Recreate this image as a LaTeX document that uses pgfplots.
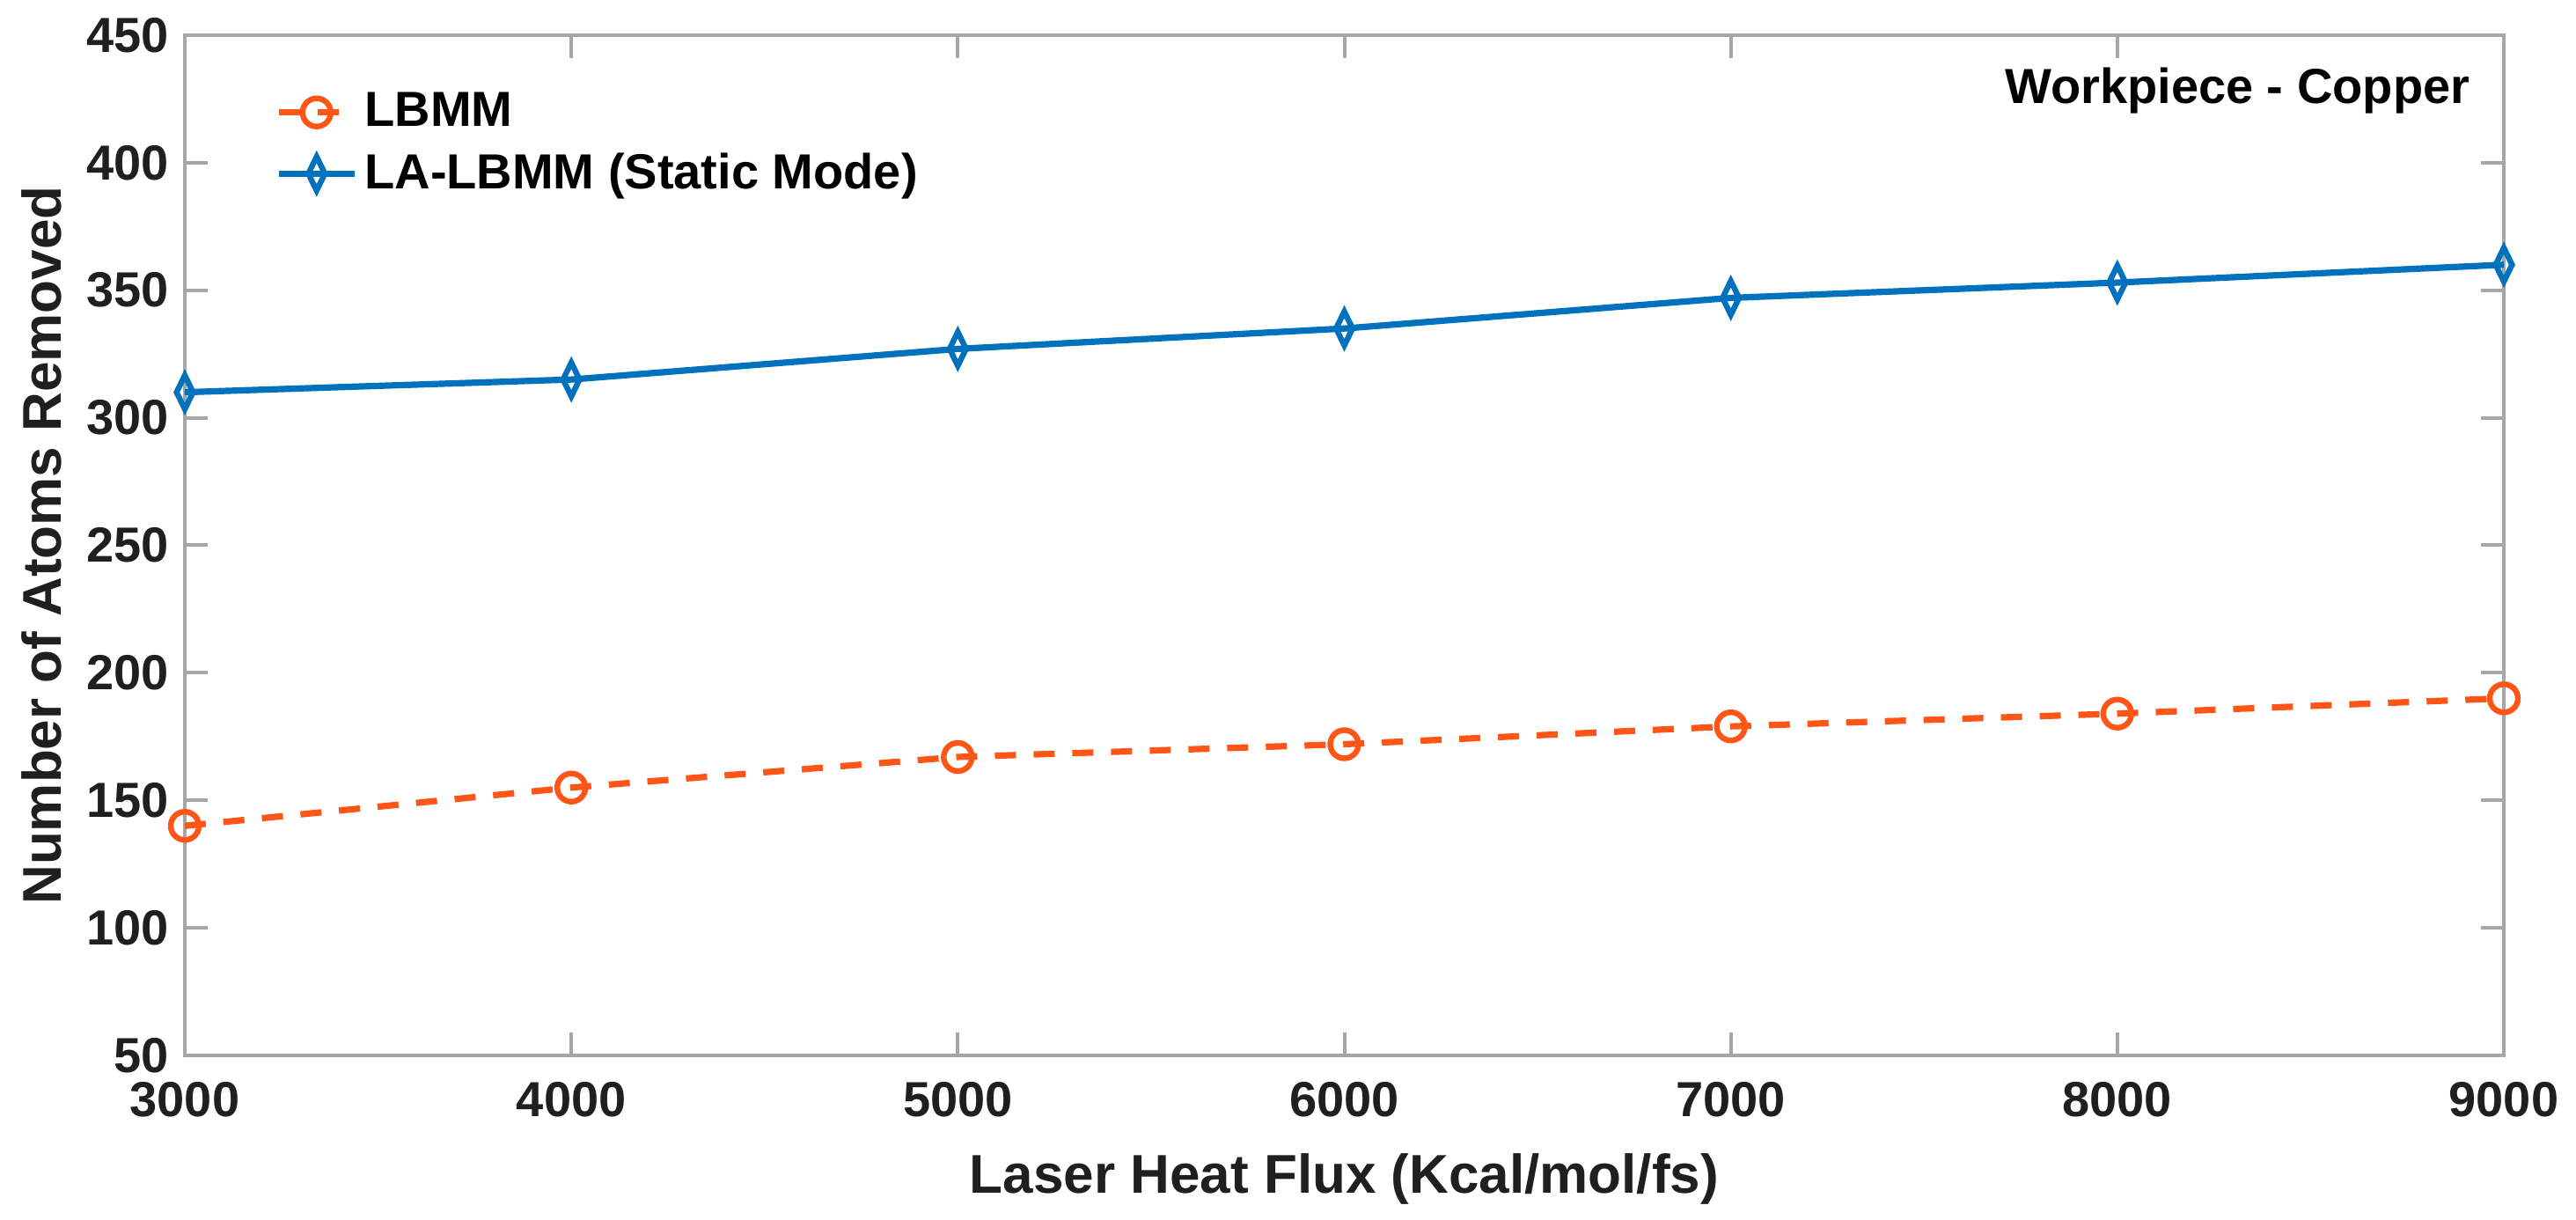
\documentclass[border=0pt]{standalone}
\usepackage{fontspec}
\setmainfont{Liberation Sans}
\usepackage{pgfplots}
\pgfplotsset{compat=1.18}
\definecolor{mblue}{HTML}{0072BD}
\definecolor{morange}{HTML}{FF5516}
\definecolor{axgray}{HTML}{A6A6A6}
\begin{document}
\begin{tikzpicture}
\begin{axis}[
  scale only axis,
  width=658.75pt, height=289.75pt,
  xmin=3000, xmax=9000, ymin=50, ymax=450,
  xtick={3000,4000,...,9000}, ytick={50,100,...,450},
  tick align=inside,
  major tick length=6.5pt,
  axis line style={axgray, line width=1pt},
  every tick/.style={axgray, line width=1pt},
  tick label style={font=\fontsize{14}{16}\selectfont\bfseries, text=black!88},
  /pgf/number format/assume math mode=true,
  /pgf/number format/set thousands separator={},
  xticklabel style={yshift=-4pt},
  yticklabel style={xshift=-1pt},
  xlabel={Laser Heat Flux (Kcal/mol/fs)},
  ylabel={Number of Atoms Removed},
  label style={font=\fontsize{15.5}{18}\selectfont\bfseries, text=black!88},
  xlabel style={at={(axis description cs:0.5,-0.1208)}, anchor=center},
  ylabel style={at={(axis description cs:-0.0619,0.5)}, anchor=center},
  legend style={draw=none, fill=none, at={(rel axis cs:0.0343,0.958)}, anchor=north west,
    font=\fontsize{14}{17}\selectfont\bfseries, row sep=2pt, nodes={inner xsep=2pt}},
  legend cell align=left,
  legend image code/.code={\draw[#1, mark repeat=2, mark phase=2] plot coordinates {(0pt,0pt) (10.75pt,0pt) (21.5pt,0pt)};},
]
\addplot[morange, line width=1.8pt, dash pattern=on 6pt off 5pt,
  mark=o, mark size=4pt, mark options={solid, fill=white, line width=1.6pt}]
  coordinates {(3000,140) (4000,155) (5000,167) (6000,172) (7000,179) (8000,184) (9000,190)};
\addlegendentry{LBMM}
\addplot[mblue, line width=1.8pt,
  mark=diamond, mark size=4.8pt, mark options={solid, fill=white, line width=1.6pt, xscale=0.65}]
  coordinates {(3000,310) (4000,315) (5000,327) (6000,335) (7000,347) (8000,353) (9000,360)};
\addlegendentry{LA-LBMM (Static Mode)}
\node[anchor=east, inner sep=0pt, font=\fontsize{14}{16}\selectfont\bfseries] at (rel axis cs:0.9856,0.946) {Workpiece - Copper};
\coordinate (sw) at (rel axis cs:0,0);
\coordinate (ne) at (rel axis cs:1,1);
\end{axis}
\pgfresetboundingbox
\path ([shift={(-52.5pt,-46.75pt)}]sw) rectangle ([shift={(20.5pt,10pt)}]ne);
\end{tikzpicture}
\end{document}
